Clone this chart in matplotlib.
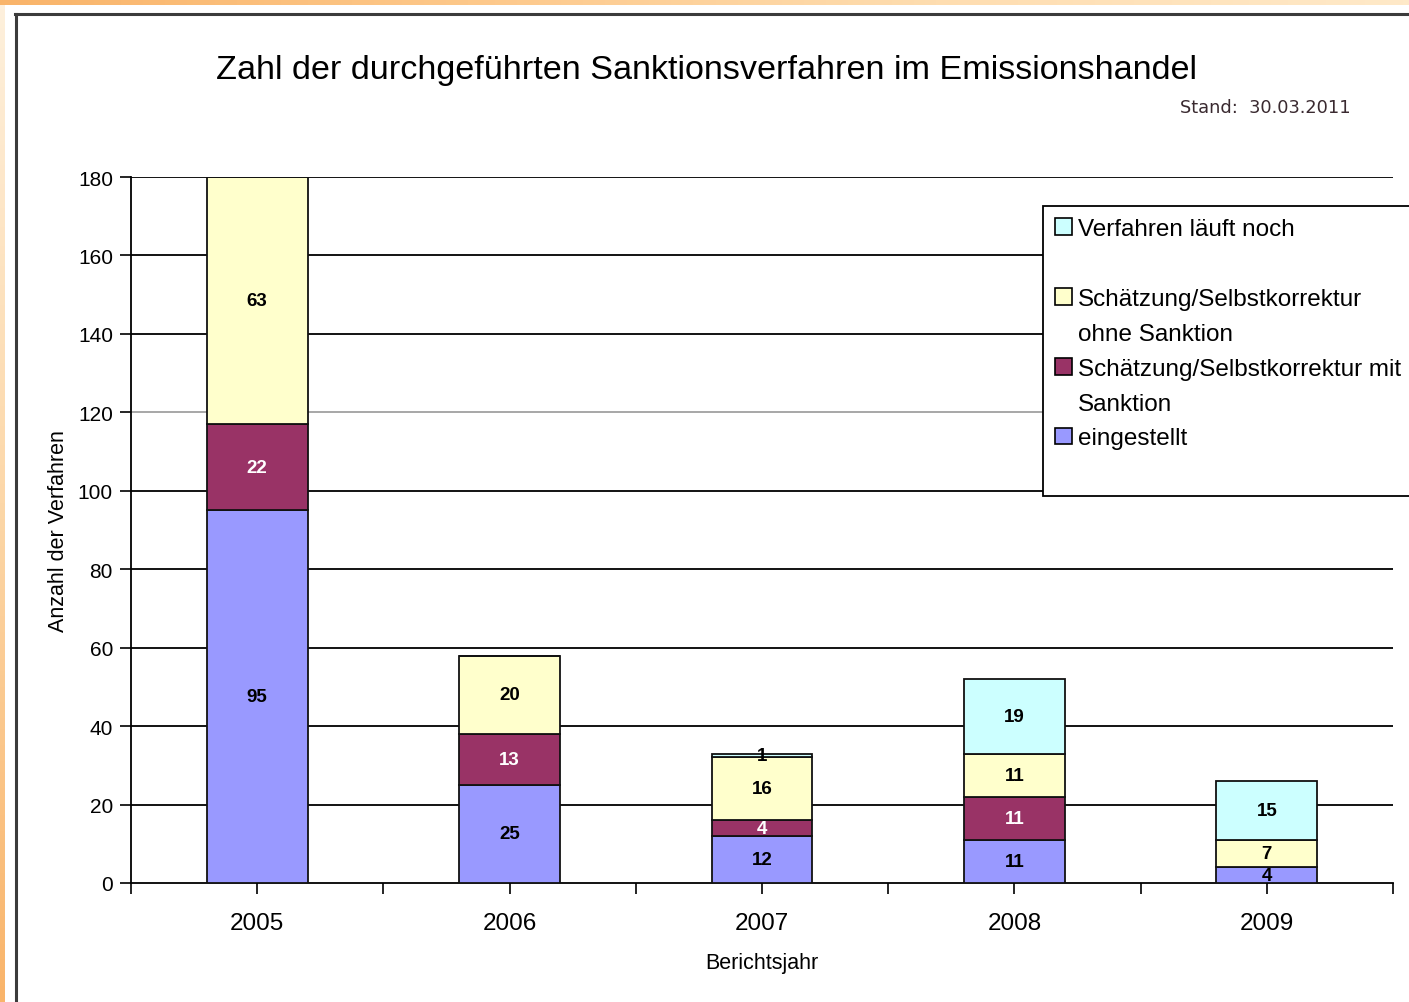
import numpy as np
import matplotlib
matplotlib.use("Agg")
import matplotlib.pyplot as plt
from matplotlib.patches import Patch
from matplotlib.lines import Line2D
from matplotlib.colors import LinearSegmentedColormap

# ---- data ----
years = ["2005", "2006", "2007", "2008", "2009"]
eingestellt = [95, 25, 12, 11, 4]
mit_sanktion = [22, 13, 4, 11, 0]
ohne_sanktion = [63, 20, 16, 11, 7]
laeuft_noch = [0, 0, 1, 19, 15]

series = [
    ("eingestellt", eingestellt, "#9999FF", "black"),
    ("Schätzung/Selbstkorrektur mit Sanktion", mit_sanktion, "#993366", "white"),
    ("Schätzung/Selbstkorrektur ohne Sanktion", ohne_sanktion, "#FFFFCC", "black"),
    ("Verfahren läuft noch", laeuft_noch, "#CCFFFF", "black"),
]
yticks = list(range(0, 181, 20))

plt.rcParams['font.family'] = ['Liberation Sans', 'DejaVu Sans']

W, H = 1409, 1003
fig = plt.figure(figsize=(W / 100, H / 100), dpi=100)
fig.patch.set_facecolor("white")

# decorative orange frame strips
top = fig.add_axes([0, 1 - 6 / H, 1, 6 / H], zorder=-5)
grad = np.linspace(0, 1, 256)[None, :]
cm = LinearSegmentedColormap.from_list("o", ["#F9B46A", "#FDC88A", "#FEDDB0", "#FEE9C8"])
top.imshow(grad, aspect="auto", cmap=cm, extent=(0, 1, 0, 1))
top.axis("off")
left = fig.add_axes([0, 0, 5 / W, 1 - 6 / H], zorder=-5)
gv = np.linspace(0, 1, 256)[:, None]
cm2 = LinearSegmentedColormap.from_list("o2", ["#FEF0DC", "#FCD7A8", "#F9B46A"])
left.imshow(gv, aspect="auto", cmap=cm2, extent=(0, 1, 0, 1))
left.axis("off")

fig.add_artist(Line2D([15 / W, 1], [1 - 15 / H, 1 - 15 / H], color="#3c3c3c", lw=2.2))
fig.add_artist(Line2D([16 / W, 16 / W], [0, 1 - 15 / H], color="#3c3c3c", lw=2.2))

ax = fig.add_axes([131 / W, 1 - 884 / H, (1393 - 131) / W, (884 - 178) / H])
x = np.arange(len(years))
bottom = np.zeros(len(years))
for name, vals, col, tcol in series:
    vals = np.array(vals, dtype=float)
    ax.bar(x, vals, width=0.4, bottom=bottom, color=col, edgecolor="#111111",
           linewidth=1.3, zorder=3)
    for xi, b, v in zip(x, bottom, vals):
        if v > 0:
            ax.text(xi, b + v / 2, f"{int(v)}", ha="center", va="center",
                    fontsize=13.5, fontweight="bold", color=tcol, zorder=4)
    bottom += vals

for yv in yticks[1:]:
    ax.axhline(yv, color="#A0A0A0" if yv == 120 else "black", lw=1.3, zorder=1)

ax.set_xlim(-0.5, len(years) - 0.5)
ax.set_ylim(0, 180)
ax.set_yticks(yticks)
ax.tick_params(axis="y", labelsize=15, length=8, width=1.2, pad=5, colors="black")
ax.set_xticks(x)
ax.set_xticklabels(years)
ax.set_xticks(np.arange(-0.5, len(years)), minor=True)
ax.tick_params(axis="x", which="both", labelsize=17.5, length=8, width=1.2, pad=13)
for s in ["top", "right"]:
    ax.spines[s].set_visible(False)
for s in ["left", "bottom"]:
    ax.spines[s].set_linewidth(1.3)
ax.set_ylabel("Anzahl der Verfahren", fontsize=15.5, labelpad=6)
ax.set_xlabel("Berichtsjahr", fontsize=15.5, labelpad=13)

fig.text(707 / W, 1 - 71 / H, "Zahl der durchgeführten Sanktionsverfahren im Emissionshandel",
         ha="center", va="center", fontsize=24.6)
fig.text(1351 / W, 1 - 108 / H, "Stand:  30.03.2011", ha="right", va="center",
         fontsize=12.8, family="DejaVu Sans", color="#3a2a30")

inv = Patch(facecolor="none", edgecolor="none")
def hp(c):
    return Patch(facecolor=c, edgecolor="black", linewidth=1.2)
handles = [hp("#CCFFFF"), inv, hp("#FFFFCC"), inv, hp("#993366"), inv, hp("#9999FF"), inv]
labels = ["Verfahren läuft noch", " ", "Schätzung/Selbstkorrektur", "ohne Sanktion",
          "Schätzung/Selbstkorrektur mit", "Sanktion", "eingestellt", " "]
leg = fig.legend(handles, labels, loc="upper left", mode="expand",
                 bbox_to_anchor=(1043 / W, 1 - 492 / H, 420 / W, 285 / H), borderaxespad=0,
                 fontsize=17.5, handlelength=0.68, handleheight=0.68,
                 handletextpad=0.25, labelspacing=0.53, borderpad=0.5,
                 fancybox=False, frameon=True, framealpha=1)
leg.get_frame().set_edgecolor("black")
leg.get_frame().set_linewidth(1.3)

fig.savefig("out.png", dpi=100)
